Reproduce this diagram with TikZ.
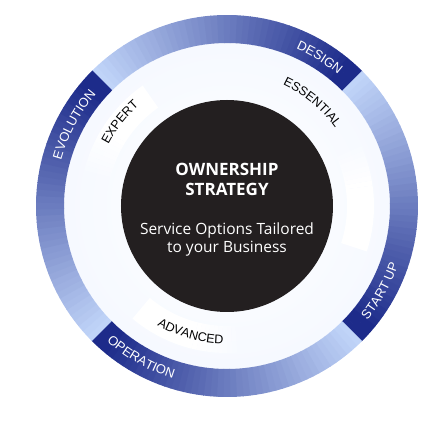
\documentclass[tikz,border=0pt]{standalone}
\usepackage{fontspec}
\usepackage{tikz}
\usetikzlibrary{decorations.text}
\usepackage{xcolor}

\newfontfamily\ringfamily{Liberation Sans}
\newfontfamily\corefamily{Open Sans}
\newcommand{\ringtxt}{\ringfamily\fontsize{13}{15}\selectfont}
\newcommand{\leveltxt}{\ringfamily\fontsize{12.5}{15}\selectfont}

\definecolor{ringlight}{HTML}{C0D4F8}
\definecolor{ringdark}{HTML}{1D2B8A}
\definecolor{coreblack}{HTML}{231F20}
\definecolor{glowa}{HTML}{F3F7FF}
\definecolor{glowb}{HTML}{E9F0FD}
\definecolor{glowc}{HTML}{DFE9FC}
\definecolor{glowd}{HTML}{D8E4FA}

\pgfdeclareradialshading{innerglow}{\pgfpoint{0bp}{0bp}}{color(0bp)=(white); color(33bp)=(glowa); color(44bp)=(glowb); color(47bp)=(glowc); color(50bp)=(glowd)}

% annular piece: options, from angle, to angle, inner r, outer r
\newcommand{\ringslice}[5]{\fill[#1] (#2:#5) arc[start angle=#2, end angle=#3, radius=#5] -- (#3:#4) arc[start angle=#3, end angle=#2, radius=#4] -- cycle;}

\tikzset{
	ringlabel/.style={decorate, decoration={text along path, text align=center, text color=white}},
	levellabel/.style={decorate, decoration={text along path, text align=center, text color=black}},
	titletext/.style={text=white, font=\corefamily\bfseries\fontsize{17}{20}\selectfont, anchor=base, inner sep=0pt},
	subtext/.style={text=white, font=\corefamily\fontsize{15.5}{18}\selectfont, anchor=base, inner sep=0pt}
}

\begin{document}
\begin{tikzpicture}
	\useasboundingbox (-227pt,-222pt) rectangle (213pt,206pt);
	% pale inner disc
	\shade[shading=innerglow] (0,0) circle (163pt);
	% white level bands
	\ringslice{white}{125}{148}{120pt}{147pt}
	\foreach \k in {0,...,9}{
		\pgfmathsetmacro\a{148+2*\k}
		\pgfmathsetmacro\b{\a+2}
		\pgfmathsetmacro\o{1-\k/10}
		\ringslice{white,opacity=\o}{\a}{\b}{120pt}{147pt}
	}
	\ringslice{white}{-18}{8}{120pt}{147pt}
	\foreach \k in {0,...,8}{
		\pgfmathsetmacro\a{8+2*\k}
		\pgfmathsetmacro\b{\a+2}
		\pgfmathsetmacro\o{1-\k/9}
		\ringslice{white,opacity=\o}{\a}{\b}{120pt}{147pt}
	}
	\ringslice{white}{230}{256}{120pt}{147pt}
	\foreach \k in {0,...,9}{
		\pgfmathsetmacro\a{256+2*\k}
		\pgfmathsetmacro\b{\a+2}
		\pgfmathsetmacro\o{1-\k/10}
		\ringslice{white,opacity=\o}{\a}{\b}{120pt}{147pt}
	}
	% outer ring, four phases, light to dark clockwise
	\foreach \s in {0,1,2,3}{
		\foreach \i in {0,...,44}{
			\pgfmathsetmacro\a{135-90*\s-2*\i}
			\pgfmathsetmacro\b{\a-2.2}
			\pgfmathtruncatemacro\p{min(100,105*\i/44)}
			\ringslice{ringdark!\p!ringlight}{\a}{\b}{163pt}{191pt}
		}
	}
	% core
	\node[circle, fill=coreblack, minimum size=212pt, inner sep=0pt] (core) at (0,0) {};
	\node[titletext, yshift=30pt] (own) at (core) {OWNERSHIP};
	\node[titletext, yshift=10pt] (strat) at (core) {STRATEGY};
	\node[subtext, yshift=-29pt] (serv) at (core) {Service Options Tailored};
	\node[subtext, yshift=-46.5pt] (biz) at (core) {to your Business};
	% phase labels
	\path[ringlabel, decoration={text={|\ringtxt|DESIGN}}] (83:172pt) arc[start angle=83, end angle=33, radius=172pt];
	\path[ringlabel, decoration={text={|\ringtxt|EVOLUTION}}] (177:172pt) arc[start angle=177, end angle=127, radius=172pt];
	\path[ringlabel, decoration={text={|\ringtxt|START UP}}] (-54:181pt) arc[start angle=-54, end angle=-4, radius=181pt];
	\path[ringlabel, decoration={text={|\ringtxt|OPERATION}}] (215:181pt) arc[start angle=215, end angle=266, radius=181pt];
	% level labels
	\path[levellabel, decoration={text={|\leveltxt|ESSENTIAL}}] (80:133.5pt) arc[start angle=80, end angle=21, radius=133.5pt];
	\path[levellabel, decoration={text={|\leveltxt|EXPERT}}] (170:133.5pt) arc[start angle=170, end angle=114, radius=133.5pt];
	\path[levellabel, decoration={text={|\leveltxt|ADVANCED}}] (224:138pt) arc[start angle=224, end angle=284, radius=138pt];
\end{tikzpicture}
\end{document}
